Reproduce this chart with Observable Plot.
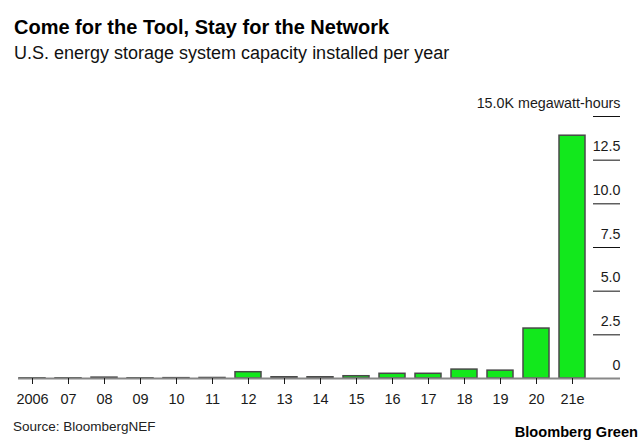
<!DOCTYPE html>
<html><head><meta charset="utf-8">
<script src="https://cdn.jsdelivr.net/npm/d3@7"></script>
<script src="https://cdn.jsdelivr.net/npm/@observablehq/plot@0.6"></script>
<style>
html,body{margin:0;padding:0;background:#fff;overflow:hidden;}
#wrap{position:relative;width:642px;height:448px;font-family:"Liberation Sans",Arial,sans-serif;color:#000;}
.t{position:absolute;white-space:nowrap;line-height:1;}
#title{left:14px;top:17.4px;font-size:20px;font-weight:bold;}
#sub{left:14px;top:44px;font-size:18px;color:#111;}
#src{left:13px;top:419.6px;font-size:13.5px;color:#222;}
#brand{right:4px;top:424.6px;font-size:14.6px;font-weight:bold;}
#chart{position:absolute;left:0;top:70px;}
</style></head>
<body><div id="wrap">
<div class="t" id="title">Come for the Tool, Stay for the Network</div>
<div class="t" id="sub">U.S. energy storage system capacity installed per year</div>
<div id="chart"></div>
<div class="t" id="src">Source: BloombergNEF</div>
<div class="t" id="brand">Bloomberg Green</div>
</div>
<script>
const years = ["2006","07","08","09","10","11","12","13","14","15","16","17","18","19","20","21e"];
const capacity = [0.01,0.01,0.05,0.01,0.02,0.03,0.36,0.07,0.07,0.13,0.27,0.27,0.51,0.45,2.86,13.9];
const yTicks = [0,2.5,5,7.5,10,12.5,15];
const yTickLabels = ["0","2.5","5.0","7.5","10.0","12.5","15.0K megawatt-hours"];

const data = years.map((year,i)=>({year, value: capacity[i]}));
const yLab = yTicks.map((v,i)=>({v, label: yTickLabels[i]}));

const chart = Plot.plot({
  width: 642, height: 345,
  marginTop: 46, marginBottom: 37, marginLeft: 18, marginRight: 22,
  style: {fontFamily: '"Liberation Sans", Arial, sans-serif', background: "white", color: "#222"},
  x: {type: "band", domain: years, range: [8.9, 595.3], padding: 0.265, label: null},
  y: {domain: [0, 15], axis: null},
  marks: [
    Plot.barY(data, {x: "year", y: "value", fill: "#12e81c", stroke: "#484848", strokeWidth: 1.5}),
    Plot.ruleY(yTicks.filter(d => d > 0), {stroke: "#111", strokeWidth: 1, insetLeft: 575}),
    Plot.ruleY([0], {stroke: "#888", strokeWidth: 2}),
    Plot.text(yLab, {y: "v", text: "label", frameAnchor: "right", textAnchor: "end", dy: -13.5, fontSize: 14.3, fill: "#1a1a1a"}),
    Plot.axisX({tickSize: 6, tickPadding: 9, fontSize: 14.5, color: "#1a1a1a", label: null})
  ]
});
document.getElementById("chart").appendChild(chart);
</script>
</body></html>
